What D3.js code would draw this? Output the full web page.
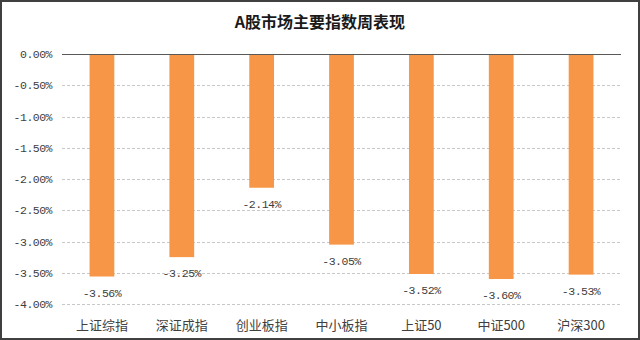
<!DOCTYPE html>
<html><head><meta charset="utf-8">
<script src="https://cdn.jsdelivr.net/npm/d3@7"></script>
<style>html,body{margin:0;padding:0;background:#fff;}</style>
</head><body>
<svg id="c" width="640" height="340"></svg>
<script>
const categories = ["上证综指","深证成指","创业板指","中小板指","上证50","中证500","沪深300"];
const values = [-3.56, -3.25, -2.14, -3.05, -3.52, -3.60, -3.53];
const yTicks = [0, -0.5, -1, -1.5, -2, -2.5, -3, -3.5, -4];
const title = "A股市场主要指数周表现";

const svg = d3.select("#c");
const W = 640, H = 340;
svg.append("rect").attr("x",1).attr("y",1).attr("width",W-2).attr("height",H-2)
  .attr("fill","#fff").attr("stroke","#404040").attr("stroke-width",2);

const m = {left:62, right:19, top:54, bottom:36};
const x = d3.scaleBand().domain(categories).range([m.left, W-m.right]).paddingInner(0.69).paddingOuter(0.345);
const y = d3.scaleLinear().domain([0,-4]).range([m.top, H-m.bottom]);

svg.append("text").attr("x",320).attr("y",28).attr("text-anchor","middle")
  .attr("font-family","'Noto Sans CJK SC'").attr("font-weight","bold").attr("font-size",16)
  .attr("fill","#1a1a1a").text(title);

// gridlines
svg.append("g").selectAll("line").data(yTicks.filter(d=>d!==0)).join("line")
  .attr("x1",m.left).attr("x2",W-m.right)
  .attr("y1",d=>Math.round(y(d))+0.5).attr("y2",d=>Math.round(y(d))+0.5)
  .attr("stroke","#c8c8c8").attr("stroke-dasharray","3,2").attr("stroke-width",1);

// y axis labels
const fmt = d=> d.toFixed(2)+"%";
svg.append("g").selectAll("text").data(yTicks).join("text")
  .attr("x",52).attr("y",d=>y(d)).attr("dy","0.35em").attr("text-anchor","end")
  .attr("font-family","'Liberation Mono', monospace").attr("font-size",11.5).attr("letter-spacing",-0.5)
  .attr("fill","#404040").text(fmt);

// bars
svg.append("g").selectAll("rect").data(values).join("rect")
  .attr("x",(d,i)=>x(categories[i])).attr("width",x.bandwidth())
  .attr("y",y(0)).attr("height",d=>y(d)-y(0))
  .attr("fill","#F79646");

// zero axis line
svg.append("line").attr("x1",m.left).attr("x2",W-m.right)
  .attr("y1",Math.round(y(0))+0.5).attr("y2",Math.round(y(0))+0.5)
  .attr("stroke","#595959").attr("stroke-width",1);

// data labels
svg.append("g").selectAll("text").data(values).join("text")
  .attr("x",(d,i)=>x(categories[i])+x.bandwidth()/2).attr("y",d=>y(d)+16).attr("dy","0.35em")
  .attr("text-anchor","middle").attr("font-family","'Liberation Mono', monospace").attr("font-size",11.5).attr("letter-spacing",-0.5)
  .attr("fill","#404040").text(fmt);

// category labels
svg.append("g").selectAll("text").data(categories).join("text")
  .attr("x",d=>x(d)+x.bandwidth()/2).attr("y",325).attr("dy","0.35em")
  .attr("text-anchor","middle").attr("font-family","'Noto Sans CJK SC'").attr("font-size",13)
  .attr("fill","#404040").text(d=>d);
</script>
</body></html>
